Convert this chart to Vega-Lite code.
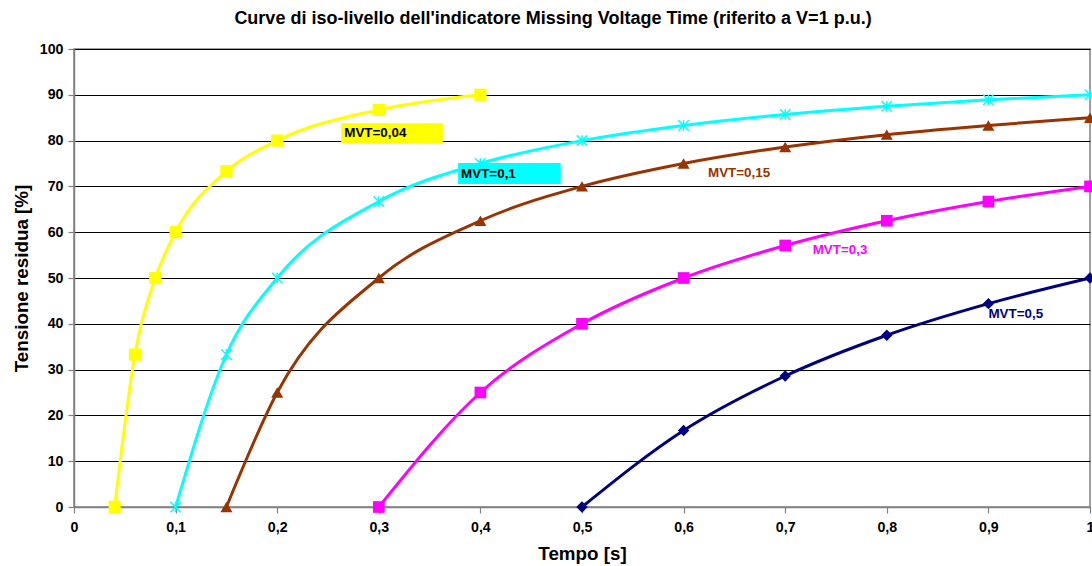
{
  "$schema": "https://vega.github.io/schema/vega-lite/v6.json",
  "autosize": "none",
  "width": 1016,
  "height": 458,
  "padding": {"left": 74, "top": 49, "right": 2, "bottom": 59},
  "background": "white",
  "config": {
    "font": "Liberation Sans",
    "view": {"stroke": "#808080", "strokeWidth": 1.5},
    "axis": {
      "labelFont": "Liberation Sans", "labelFontWeight": "bold", "labelFontSize": 14.2, "labelColor": "black",
      "titleFont": "Liberation Sans", "titleFontWeight": "bold", "titleFontSize": 18.8, "titleColor": "black",
      "domainColor": "#808080", "domainWidth": 1.5, "tickColor": "#808080", "tickWidth": 1.2, "tickSize": 6
    }
  },
  "title": {
    "text": "Curve di iso-livello dell'indicatore Missing Voltage Time (riferito a V=1 p.u.)",
    "font": "Liberation Sans", "fontSize": 18, "fontWeight": "bold", "color": "black",
    "anchor": "middle", "dx": -29, "offset": 14
  },
  "datasets": {
    "curves": [
      {"serie": "MVT=0,04", "t": 0.04, "v": 0},
      {"serie": "MVT=0,04", "t": 0.06, "v": 33.3},
      {"serie": "MVT=0,04", "t": 0.08, "v": 50},
      {"serie": "MVT=0,04", "t": 0.1, "v": 60},
      {"serie": "MVT=0,04", "t": 0.15, "v": 73.3},
      {"serie": "MVT=0,04", "t": 0.2, "v": 80},
      {"serie": "MVT=0,04", "t": 0.3, "v": 86.7},
      {"serie": "MVT=0,04", "t": 0.4, "v": 90},
      {"serie": "MVT=0,1", "t": 0.1, "v": 0},
      {"serie": "MVT=0,1", "t": 0.15, "v": 33.3},
      {"serie": "MVT=0,1", "t": 0.2, "v": 50},
      {"serie": "MVT=0,1", "t": 0.3, "v": 66.7},
      {"serie": "MVT=0,1", "t": 0.4, "v": 75},
      {"serie": "MVT=0,1", "t": 0.5, "v": 80},
      {"serie": "MVT=0,1", "t": 0.6, "v": 83.3},
      {"serie": "MVT=0,1", "t": 0.7, "v": 85.7},
      {"serie": "MVT=0,1", "t": 0.8, "v": 87.5},
      {"serie": "MVT=0,1", "t": 0.9, "v": 88.9},
      {"serie": "MVT=0,1", "t": 1.0, "v": 90},
      {"serie": "MVT=0,15", "t": 0.15, "v": 0},
      {"serie": "MVT=0,15", "t": 0.2, "v": 25},
      {"serie": "MVT=0,15", "t": 0.3, "v": 50},
      {"serie": "MVT=0,15", "t": 0.4, "v": 62.5},
      {"serie": "MVT=0,15", "t": 0.5, "v": 70},
      {"serie": "MVT=0,15", "t": 0.6, "v": 75},
      {"serie": "MVT=0,15", "t": 0.7, "v": 78.6},
      {"serie": "MVT=0,15", "t": 0.8, "v": 81.3},
      {"serie": "MVT=0,15", "t": 0.9, "v": 83.3},
      {"serie": "MVT=0,15", "t": 1.0, "v": 85},
      {"serie": "MVT=0,3", "t": 0.3, "v": 0},
      {"serie": "MVT=0,3", "t": 0.4, "v": 25},
      {"serie": "MVT=0,3", "t": 0.5, "v": 40},
      {"serie": "MVT=0,3", "t": 0.6, "v": 50},
      {"serie": "MVT=0,3", "t": 0.7, "v": 57.1},
      {"serie": "MVT=0,3", "t": 0.8, "v": 62.5},
      {"serie": "MVT=0,3", "t": 0.9, "v": 66.7},
      {"serie": "MVT=0,3", "t": 1.0, "v": 70},
      {"serie": "MVT=0,5", "t": 0.5, "v": 0},
      {"serie": "MVT=0,5", "t": 0.6, "v": 16.7},
      {"serie": "MVT=0,5", "t": 0.7, "v": 28.6},
      {"serie": "MVT=0,5", "t": 0.8, "v": 37.5},
      {"serie": "MVT=0,5", "t": 0.9, "v": 44.4},
      {"serie": "MVT=0,5", "t": 1.0, "v": 50}
    ],
    "boxes": [
      {"serie": "MVT=0,04", "x1": 0.263, "x2": 0.363, "y1": 79.5, "y2": 83.8},
      {"serie": "MVT=0,1", "x1": 0.378, "x2": 0.479, "y1": 70.5, "y2": 75.1}
    ],
    "labels": [
      {"serie": "MVT=0,04", "t": 0.266, "v": 81.6},
      {"serie": "MVT=0,1", "t": 0.381, "v": 72.8},
      {"serie": "MVT=0,15", "t": 0.624, "v": 72.9},
      {"serie": "MVT=0,3", "t": 0.727, "v": 56.1},
      {"serie": "MVT=0,5", "t": 0.9, "v": 42.1}
    ]
  },
  "layer": [
    {
      "data": {"name": "curves"},
      "mark": {"type": "line", "interpolate": "monotone", "strokeWidth": 3, "clip": false},
      "encoding": {
        "x": {"field": "t", "type": "quantitative", "scale": {"domain": [0, 1], "nice": false},
              "axis": {"values": [0, 0.1, 0.2, 0.3, 0.4, 0.5, 0.6, 0.7, 0.8, 0.9, 1], "labelExpr": "replace(format(datum.value, '~g'), '.', ',')", "title": "Tempo [s]", "grid": false, "labelPadding": 7, "titlePadding": 10, "labelFlush": false, "labelOverlap": false}},
        "y": {"field": "v", "type": "quantitative", "scale": {"domain": [0, 100], "nice": false},
              "axis": {"values": [0, 10, 20, 30, 40, 50, 60, 70, 80, 90, 100], "title": "Tensione residua [%]", "grid": true, "gridColor": "black", "gridWidth": 1, "gridOpacity": 1, "labelPadding": 5, "titlePadding": 8}},
        "color": {"field": "serie", "type": "nominal", "legend": null,
                  "scale": {"domain": ["MVT=0,04", "MVT=0,1", "MVT=0,15", "MVT=0,3", "MVT=0,5"], "range": ["#FFFF00", "#00FFFF", "#993300", "#FF00FF", "#000080"]}},
        "detail": {"field": "serie"}
      }
    },
    {
      "data": {"name": "curves"},
      "transform": [{"filter": "datum.serie != 'MVT=0,1'"}],
      "mark": {"type": "point", "filled": true, "opacity": 1, "clip": false},
      "encoding": {
        "x": {"field": "t", "type": "quantitative"},
        "y": {"field": "v", "type": "quantitative"},
        "color": {"field": "serie", "type": "nominal", "legend": null},
        "shape": {"field": "serie", "type": "nominal", "legend": null,
                  "scale": {"domain": ["MVT=0,04", "MVT=0,15", "MVT=0,3", "MVT=0,5"], "range": ["square", "triangle-up", "square", "diamond"]}},
        "size": {"field": "serie", "type": "nominal", "legend": null,
                 "scale": {"domain": ["MVT=0,04", "MVT=0,15", "MVT=0,3", "MVT=0,5"], "range": [150, 130, 150, 110]}}
      }
    },
    {
      "data": {"name": "curves"},
      "transform": [{"filter": "datum.serie == 'MVT=0,1'"}],
      "mark": {"type": "point", "filled": false, "shape": "M-1,-1L1,1M1,-1L-1,1M0,-1L0,1", "size": 110, "strokeWidth": 1.5, "opacity": 1, "clip": false},
      "encoding": {
        "x": {"field": "t", "type": "quantitative"},
        "y": {"field": "v", "type": "quantitative"},
        "color": {"field": "serie", "type": "nominal", "legend": null}
      }
    },
    {
      "data": {"name": "boxes"},
      "mark": {"type": "rect"},
      "encoding": {
        "x": {"field": "x1", "type": "quantitative"},
        "x2": {"field": "x2"},
        "y": {"field": "y1", "type": "quantitative"},
        "y2": {"field": "y2"},
        "color": {"field": "serie", "type": "nominal", "legend": null}
      }
    },
    {
      "data": {"name": "labels"},
      "mark": {"type": "text", "align": "left", "baseline": "middle", "font": "Liberation Sans", "fontWeight": "bold", "fontSize": 13.4},
      "encoding": {
        "x": {"field": "t", "type": "quantitative"},
        "y": {"field": "v", "type": "quantitative"},
        "text": {"field": "serie"},
        "color": {
          "condition": {"test": "datum.serie == 'MVT=0,04' || datum.serie == 'MVT=0,1'", "value": "black"},
          "field": "serie", "type": "nominal", "legend": null
        }
      }
    }
  ]
}
